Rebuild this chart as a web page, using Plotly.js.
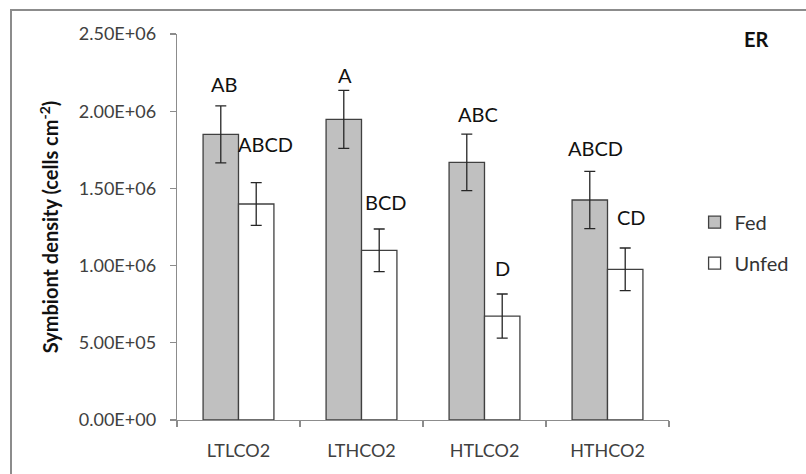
<!DOCTYPE html>
<html>
<head>
<meta charset="utf-8">
<script src="https://cdn.plot.ly/plotly-3.0.1.min.js"></script>
<style>
  html, body { margin: 0; padding: 0; background: #fff; }
  #wrap { position: relative; width: 806px; height: 474px; overflow: hidden; }
  #chart { width: 806px; height: 474px; }
  #frame { position: absolute; left: 10px; top: 9px; width: 900px; height: 600px;
           border-left: 2px solid #8c8c8c; border-top: 2px solid #8c8c8c; pointer-events: none; }
</style>
</head>
<body>
<div id="wrap">
  <div id="chart"></div>
  <div id="frame"></div>
</div>
<script>
const categories = ["LTLCO2", "LTHCO2", "HTLCO2", "HTHCO2"];
const fedValues = [1850000, 1947000, 1669000, 1425000];
const fedErrors = [185000, 188000, 183000, 185000];
const unfedValues = [1399000, 1099000, 673000, 976000];
const unfedErrors = [138000, 138000, 143000, 138000];
const fedLetters = ["AB", "A", "ABC", "ABCD"];
const unfedLetters = ["ABCD", "BCD", "D", "CD"];
const fedLetterY = [2176000, 2234000, 1980000, 1760000];
const unfedLetterY = [1788000, 1414000, 983000, 1313000];
const fedLetterShift = [-15, -17, -7, -12];
const unfedLetterShift = [27, 24, 18, 24];
const yTickVals = [0, 500000, 1000000, 1500000, 2000000, 2500000];
const yTickText = ["0.00E+00", "5.00E+05", "1.00E+06", "1.50E+06", "2.00E+06", "2.50E+06"];

const FONT = "Lato, 'Open Sans', sans-serif";
const errStyle = { type: "data", visible: true, color: "#262626", thickness: 1.3, width: 5.5 };

const traces = [
  {
    type: "bar", name: "Fed", x: categories, y: fedValues, legendgroup: "a",
    marker: { color: "#c0c0c0", line: { color: "#404040", width: 1.3 } },
    error_y: Object.assign({ array: fedErrors }, errStyle)
  },
  {
    type: "bar", name: "Unfed", x: categories, y: unfedValues, legendgroup: "b",
    marker: { color: "#ffffff", line: { color: "#404040", width: 1.3 } },
    error_y: Object.assign({ array: unfedErrors }, errStyle)
  }
];

const annotations = [];
categories.forEach((c, i) => {
  annotations.push({ x: c, y: fedLetterY[i], xref: "x", yref: "y", text: fedLetters[i],
    showarrow: false, xshift: fedLetterShift[i], font: { family: FONT, size: 20, color: "#111" } });
  annotations.push({ x: c, y: unfedLetterY[i], xref: "x", yref: "y", text: unfedLetters[i],
    showarrow: false, xshift: unfedLetterShift[i], font: { family: FONT, size: 20, color: "#111" } });
});
annotations.push({ xref: "paper", yref: "paper", x: 1.177, y: 0.987, text: "<b>ER</b>",
  showarrow: false, xanchor: "center", yanchor: "middle", font: { family: FONT, size: 20, color: "#111" } });

const layout = {
  width: 806, height: 474,
  margin: { l: 177, r: 122, t: 34, b: 54 },
  paper_bgcolor: "#fff", plot_bgcolor: "#fff",
  font: { family: FONT, color: "#404040" },
  barmode: "group", bargap: 0.424, bargroupgap: 0,
  showlegend: true,
  legend: { x: 1.052, y: 0.563, xanchor: "left", yanchor: "top",
    font: { family: FONT, size: 20, color: "#333" }, tracegroupgap: 12, traceorder: "grouped",
    bgcolor: "rgba(0,0,0,0)" },
  xaxis: {
    type: "category", showline: true, linecolor: "#8c8c8c", linewidth: 1.3,
    ticks: "outside", tickson: "boundaries", ticklen: 6, tickcolor: "#8c8c8c", tickwidth: 1.3,
    tickfont: { family: FONT, size: 18, color: "#404040" }, ticklabelstandoff: 14,
    showgrid: false, zeroline: false, fixedrange: true
  },
  yaxis: {
    range: [0, 2500000], tickmode: "array", tickvals: yTickVals, ticktext: yTickText,
    showline: true, linecolor: "#8c8c8c", linewidth: 1.3,
    ticks: "outside", ticklen: 6, tickcolor: "#8c8c8c", tickwidth: 1.3,
    tickfont: { family: FONT, size: 18, color: "#404040" }, ticklabelstandoff: 10,
    showgrid: false, zeroline: false, fixedrange: true,
    title: { text: "<b>Symbiont density (cells cm<sup>-2</sup>)</b>", standoff: 14,
      font: { family: FONT, size: 20, color: "#111" } },
    automargin: false
  },
  annotations: annotations
};

Plotly.newPlot("chart", traces, layout, { displayModeBar: false, staticPlot: true });
</script>
</body>
</html>
